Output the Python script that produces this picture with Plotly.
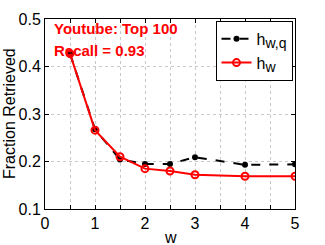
import plotly.graph_objects as go

w_vals = [0.5, 1, 1.5, 2, 2.5, 3, 4, 5]
h_wq = [0.427, 0.268, 0.204, 0.195, 0.195, 0.209, 0.193, 0.194]
h_w = [0.427, 0.266, 0.210, 0.185, 0.180, 0.172, 0.169, 0.169]
x_ticks = [0, 1, 2, 3, 4, 5]
y_ticks = [0.1, 0.2, 0.3, 0.4, 0.5]

FONT = "Liberation Sans, Arial, sans-serif"

fig = go.Figure()
fig.add_trace(go.Scatter(
    x=w_vals, y=h_wq, mode="lines+markers",
    name="h<sub><span style='font-size:14px'>w,q</span></sub>",
    line=dict(color="black", width=2, dash="dash"),
    marker=dict(color="black", size=6, symbol="circle"),
))
fig.add_trace(go.Scatter(
    x=w_vals, y=h_w, mode="lines+markers",
    name="h<sub><span style='font-size:14px'>w</span></sub>",
    line=dict(color="#ff0000", width=2),
    marker=dict(color="#ff0000", size=7, symbol="circle-open", line=dict(width=2)),
))

axis_common = dict(
    showline=True, linecolor="black", linewidth=1, mirror="ticks",
    ticks="inside", ticklen=4, tickcolor="black",
    showgrid=True, gridcolor="#c8c8c8", griddash="dot", gridwidth=1,
    zeroline=False, tickfont=dict(size=16, color="black", family=FONT),
    automargin=False,
)

fig.update_xaxes(
    range=[0, 5], tickvals=x_ticks,
    minor=dict(dtick=0.5, ticks="inside", ticklen=4, tickcolor="black", showgrid=True, gridcolor="#c8c8c8", griddash="dot"),
    **axis_common,
)
fig.update_yaxes(
    range=[0.1, 0.5], tickvals=y_ticks, tickformat=".1f",
    **axis_common,
)

# axis titles
fig.add_annotation(x=0.5, y=0, xref="paper", yref="paper", xanchor="center", yanchor="middle",
                   yshift=-28, text="w", showarrow=False,
                   font=dict(size=16, color="black", family=FONT))
fig.add_annotation(x=0, y=0.5, xref="paper", yref="paper", xanchor="center", yanchor="middle",
                   xshift=-36, textangle=-90, text="Fraction Retrieved", showarrow=False,
                   font=dict(size=16, color="black", family=FONT))

fig.add_annotation(x=0.028, y=0.948, xref="paper", yref="paper", xanchor="left", yanchor="middle",
                   text="<b>Youtube: Top 100</b>", showarrow=False,
                   font=dict(size=15, color="#ff0000", family=FONT))
fig.add_annotation(x=0.028, y=0.832, xref="paper", yref="paper", xanchor="left", yanchor="middle",
                   text="<b>Recall = 0.93</b>", showarrow=False,
                   font=dict(size=15, color="#ff0000", family=FONT))

fig.update_layout(
    width=325, height=245,
    margin=dict(l=45, r=30, t=19, b=36),
    paper_bgcolor="white", plot_bgcolor="white",
    font=dict(family=FONT, color="black"),
    legend=dict(x=0.99, y=0.99, xanchor="right", yanchor="top",
                bgcolor="white", bordercolor="black", borderwidth=1,
                font=dict(size=16, color="black", family=FONT),
                tracegroupgap=0, itemwidth=30),
    showlegend=True,
)

fig.write_html("out.html", config={"displayModeBar": False},
               post_script="document.body.style.margin='0';")
